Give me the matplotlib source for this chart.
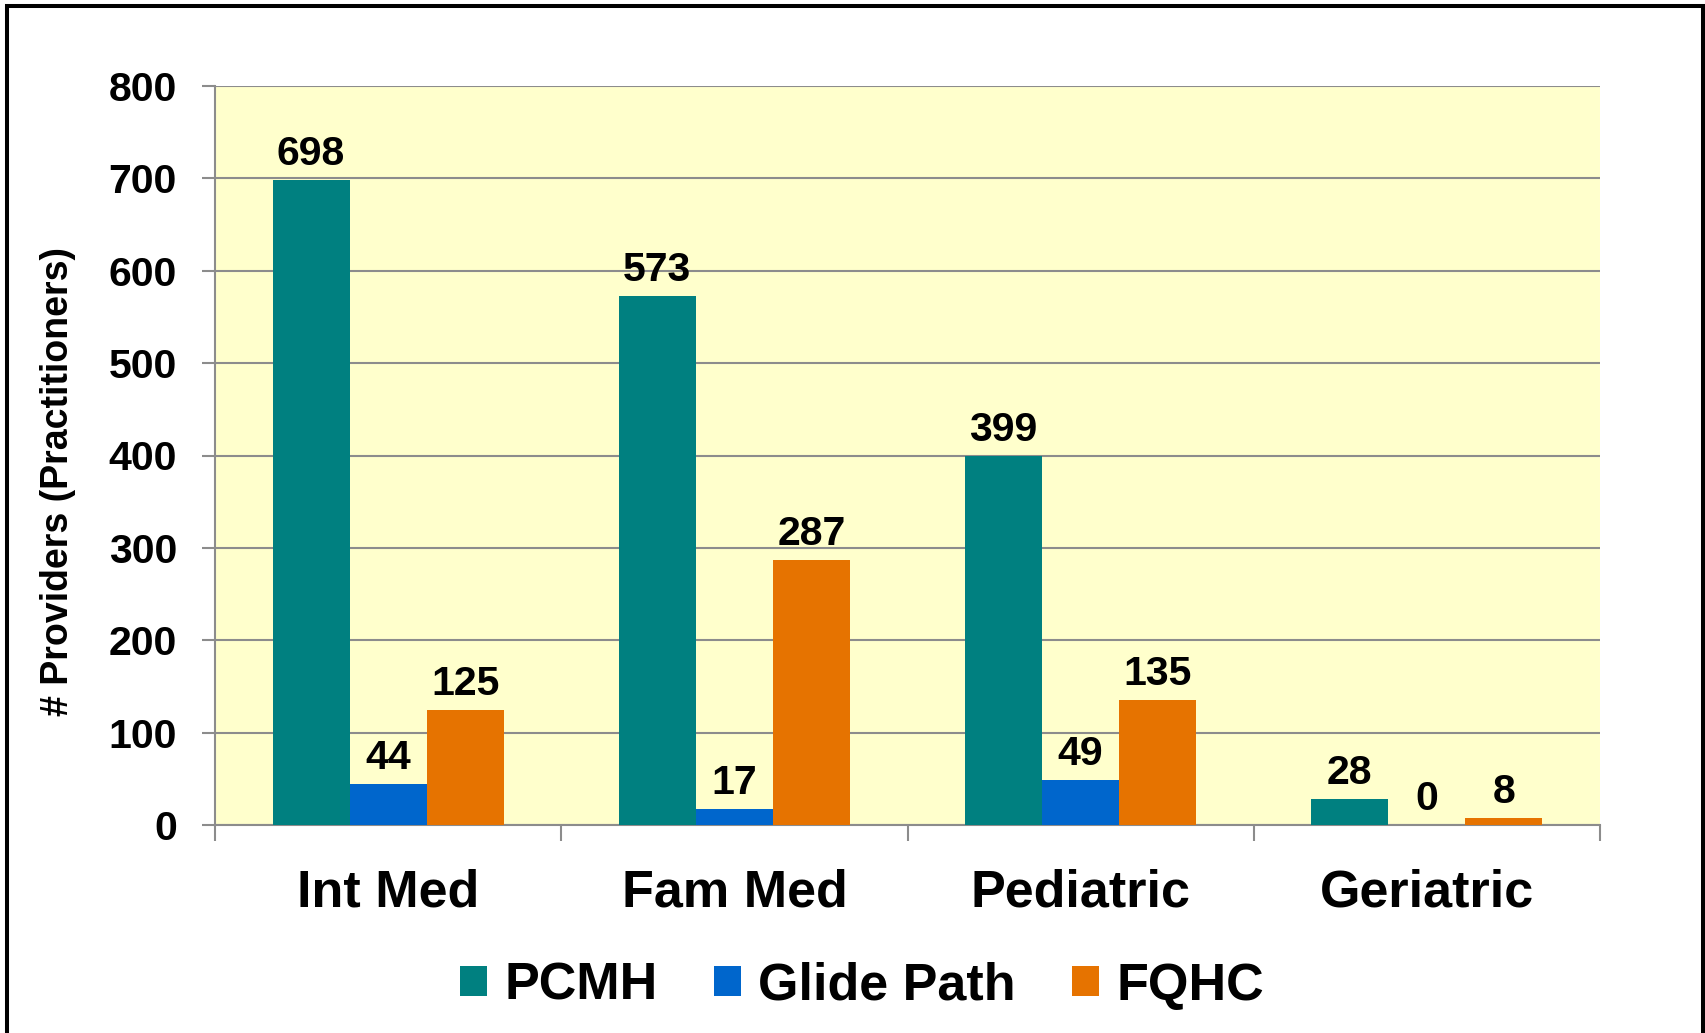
import numpy as np
import matplotlib
matplotlib.use('Agg')
import matplotlib.pyplot as plt
from matplotlib.patches import Rectangle

plt.rcParams['font.family'] = ['Liberation Sans', 'DejaVu Sans']
plt.rcParams['font.weight'] = 'bold'

# data
categories = ['Int Med', 'Fam Med', 'Pediatric', 'Geriatric']
series = ['PCMH', 'Glide Path', 'FQHC']
pcmh = [698, 573, 399, 28]
glide = [44, 17, 49, 0]
fqhc = [125, 287, 135, 8]
colors = ['#008080', '#0066CC', '#E67300']

W, H = 1705, 1033
fig = plt.figure(figsize=(W / 100, H / 100), dpi=100)
ax = fig.add_axes([215 / W, 1 - 825 / H, (1600 - 215) / W, (825 - 86) / H])
ax.set_facecolor('#FFFFCC')

x = np.arange(len(categories))
bw = 0.2225
handles = []
for i, (vals, name) in enumerate(zip([pcmh, glide, fqhc], series)):
    b = ax.bar(x + (i - 1) * bw, vals, bw, color=colors[i], label=name, zorder=3)
    handles.append(b)
    for xi, v in zip(x + (i - 1) * bw, vals):
        ax.annotate(str(v), (xi, v), xytext=(0, 5), textcoords='offset points',
                    ha='center', va='bottom', fontsize=29.5, fontweight='bold')

ax.set_xlim(-0.5, len(categories) - 0.5)
ax.set_ylim(0, 800)
ax.set_yticks(np.arange(0, 801, 100))
ax.yaxis.grid(True, color='#8C8C8C', lw=1.5, zorder=0)
ax.set_axisbelow(True)

ax.set_xticks(x)
ax.set_xticklabels(categories, fontsize=37.5, fontweight='bold')
ax.set_xticks(np.arange(-0.5, len(categories)), minor=True)
ax.tick_params(axis='x', which='major', length=0, pad=31.5)
ax.tick_params(axis='x', which='minor', length=11.5, width=1.5, color='#8C8C8C')
ax.tick_params(axis='y', length=9.4, width=1.5, color='#8C8C8C', pad=18, labelsize=29.5)
for lab in ax.get_yticklabels():
    lab.set_fontweight('bold')

for s in ['top', 'right']:
    ax.spines[s].set_visible(False)
for s in ['left', 'bottom']:
    ax.spines[s].set_color('#8C8C8C')
    ax.spines[s].set_linewidth(1.5)

fig.text(58 / W, 1 - 482 / H, '# Providers (Practitioners)', rotation=90,
         ha='center', va='center', fontsize=27, fontweight='bold')

fig.legend(handles=handles, labels=series, loc='center', ncol=3,
           bbox_to_anchor=(862 / W, 1 - 986 / H), frameon=False,
           fontsize=37.5, handlelength=0.52, handleheight=0.52,
           handletextpad=0.33, columnspacing=1.08, borderpad=0)

# outer frame
fig.patches.append(Rectangle((7 / W, -0.05), (1703 - 7) / W, 1.05 - 5.5 / H,
                             transform=fig.transFigure, fill=False,
                             edgecolor='black', lw=2.9))

fig.savefig('out.png', dpi=100)
